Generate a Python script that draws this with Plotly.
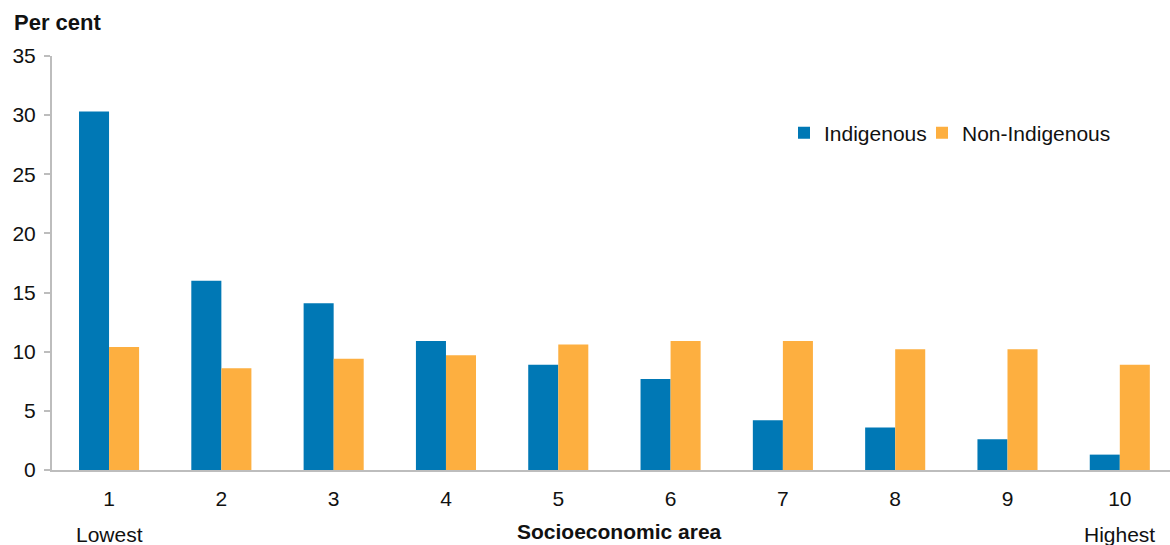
import plotly.graph_objects as go

# Share of population in each socioeconomic area decile (per cent)
areas = [1, 2, 3, 4, 5, 6, 7, 8, 9, 10]
area_labels = ["1", "2", "3", "4", "5", "6", "7", "8", "9", "10"]
indigenous = [30.3, 16.0, 14.1, 10.9, 8.9, 7.7, 4.2, 3.6, 2.6, 1.3]
non_indigenous = [10.4, 8.6, 9.4, 9.7, 10.6, 10.9, 10.9, 10.2, 10.2, 8.9]
y_ticks = [0, 5, 10, 15, 20, 25, 30, 35]

BLUE = "#0078B5"
ORANGE = "#FDAF40"
FONT = "Liberation Sans, Arial, sans-serif"
TEXT = "#111111"
FS = 21

fig = go.Figure()
fig.add_trace(go.Bar(x=areas, y=indigenous, name="Indigenous", legend="legend",
                     marker=dict(color=BLUE, line=dict(width=0))))
fig.add_trace(go.Bar(x=areas, y=non_indigenous, name="Non-Indigenous", legend="legend2",
                     marker=dict(color=ORANGE, line=dict(width=0))))

W, H = 1170, 545
ml, mr, mt, mb = 52, 0, 56, 75
pw = W - ml - mr
ph = H - mt - mb

def py(px):
    # pixel row -> paper y
    return (H - mb - px) / ph

def pxx(px):
    # pixel column -> paper x
    return (px - ml) / pw

legend_style = dict(orientation="h", xanchor="left", y=py(133), yanchor="middle",
                    font=dict(size=FS, color=TEXT), itemwidth=30,
                    bgcolor="rgba(0,0,0,0)")

fig.update_layout(
    width=W, height=H,
    margin=dict(l=ml, r=mr, t=mt, b=mb, pad=0),
    paper_bgcolor="white", plot_bgcolor="white",
    barmode="group", bargap=0.465, bargroupgap=0,
    font=dict(family=FONT, size=FS, color=TEXT),
    showlegend=True,
    legend=dict(x=pxx(784), **legend_style),
    legend2=dict(x=pxx(922), **legend_style),
    xaxis=dict(
        tickmode="array", tickvals=areas, ticktext=area_labels,
        range=[0.492, 10.447], showgrid=False, zeroline=False,
        showline=True, linecolor="#bdbdbd", linewidth=2,
        ticks="", ticklabelstandoff=9,
        tickfont=dict(size=FS, color=TEXT),
    ),
    yaxis=dict(
        range=[0, 35], tickmode="array", tickvals=y_ticks,
        showgrid=False, zeroline=False,
        showline=True, linecolor="#bdbdbd", linewidth=2,
        ticks="outside", ticklen=6, tickcolor="#bdbdbd", tickwidth=1.5,
        tickfont=dict(size=FS, color=TEXT), ticklabelstandoff=4,
    ),
)

fig.add_annotation(text="<b>Per cent</b>", xref="paper", yref="paper",
                   x=pxx(12), y=py(22), xanchor="left", yanchor="middle",
                   showarrow=False, font=dict(size=22, color=TEXT))
fig.add_annotation(text="<b>Socioeconomic area</b>", xref="paper", yref="paper",
                   x=pxx(619), y=py(531), xanchor="center", yanchor="middle",
                   showarrow=False, font=dict(size=FS, color=TEXT))
fig.add_annotation(text="Lowest", xref="x", yref="paper",
                   x=areas[0], y=py(534), xanchor="center", yanchor="middle",
                   showarrow=False, font=dict(size=FS, color=TEXT))
fig.add_annotation(text="Highest", xref="x", yref="paper",
                   x=areas[-1], y=py(534), xanchor="center", yanchor="middle",
                   showarrow=False, font=dict(size=FS, color=TEXT))

fig.write_html("out.html")
